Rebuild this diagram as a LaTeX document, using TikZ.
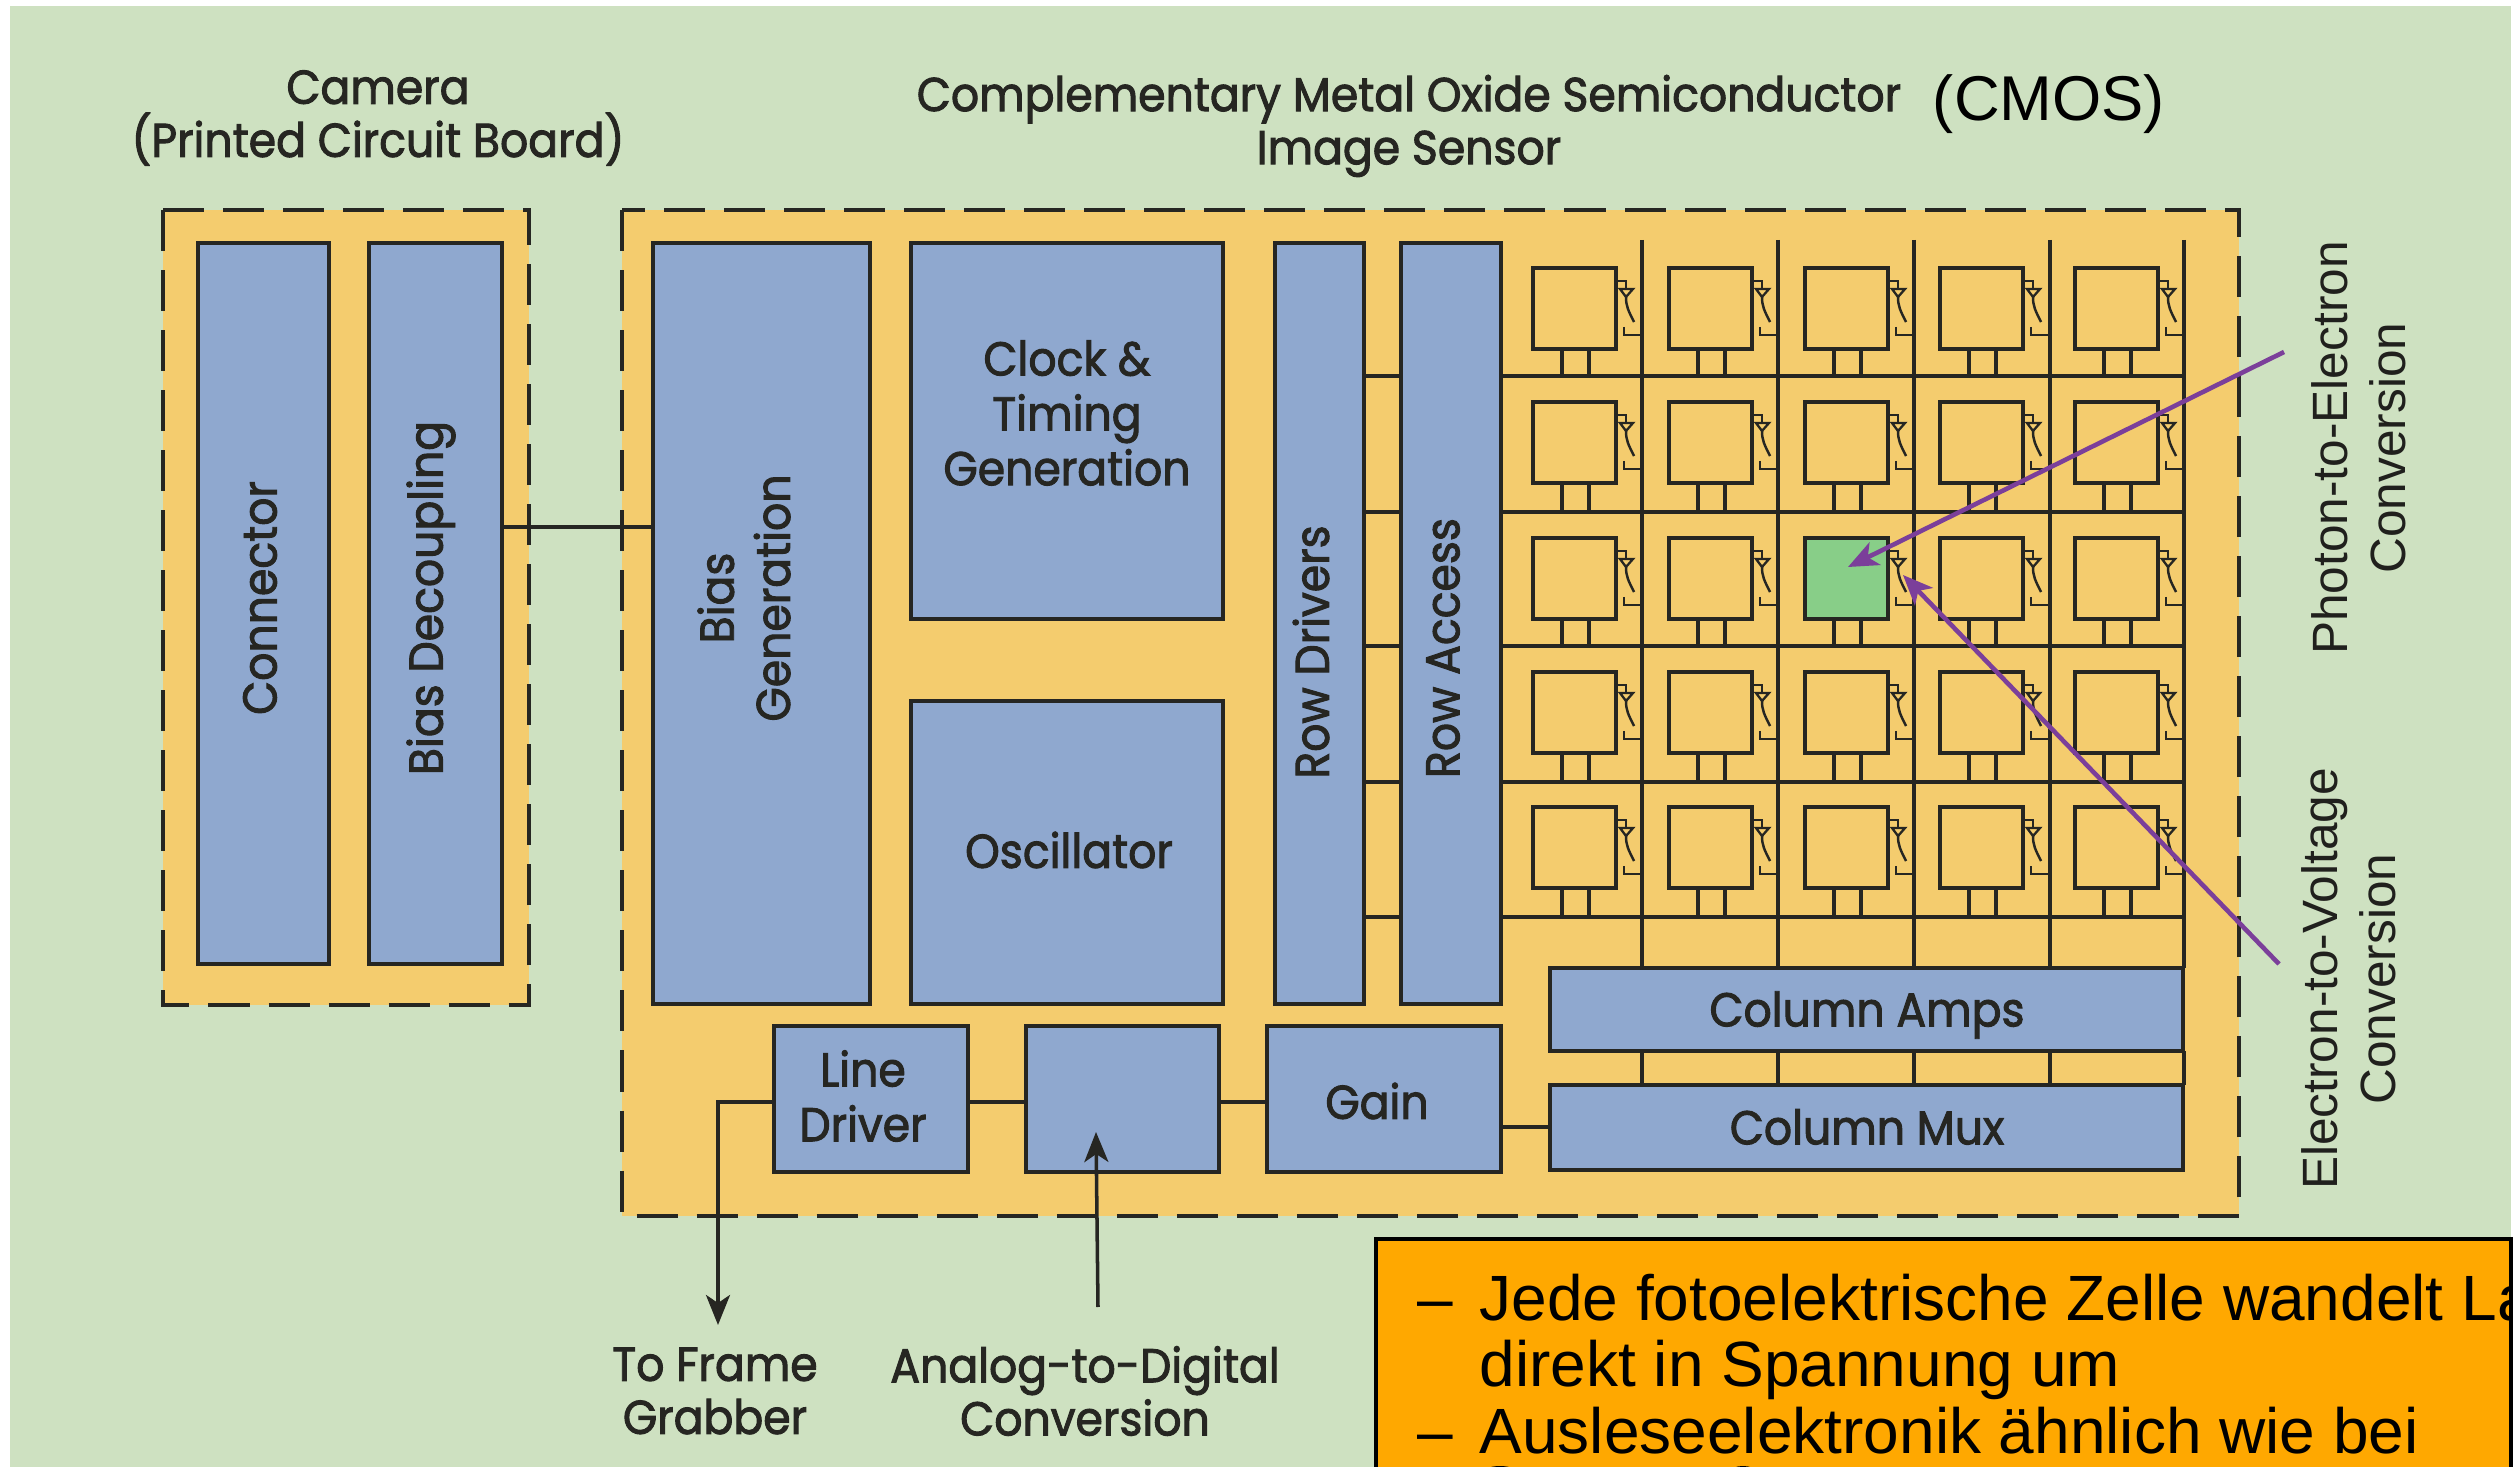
\documentclass[tikz,border=0pt]{standalone}
\usepackage{fontspec}
\usetikzlibrary{arrows.meta,calc}
\setmainfont{Liberation Sans}
\newfontfamily\gfont[FakeStretch=0.93,FakeBold=2]{Poppins}
\definecolor{bgc}{HTML}{CEE1C1}
\definecolor{chip}{HTML}{F4CC6E}
\definecolor{blk}{HTML}{8FA8CF}
\definecolor{lit}{HTML}{88CE88}
\definecolor{note}{HTML}{FFA800}
\definecolor{ink}{HTML}{262622}
\definecolor{viol}{HTML}{7B3F9A}
\tikzset{
  zone/.style={fill=chip,draw=ink,line width=1.2pt,dash pattern=on 0.41cm off 0.19cm},
  block/.style={fill=blk,draw=ink,line width=1.3pt,inner sep=0pt,outer sep=0pt,text=ink,align=center,font=\gfont\fontsize{13.5}{15.6}\selectfont},
  gtext/.style={inner sep=0pt,text=ink,align=center,font=\gfont\fontsize{13.5}{15.1}\selectfont},
  gblock/.style={inner sep=0pt,text=ink,align=center,font=\gfont\fontsize{13.5}{15.6}\selectfont},
  htext/.style={inner sep=0pt,text=ink!85!black,align=center,font=\fontsize{14.1}{16.4}\selectfont},
  wire/.style={draw=ink,line width=1pt},
  thin wire/.style={draw=ink,line width=0.9pt},
  cellbox/.style={draw=ink,line width=0.95pt,inner sep=0pt,outer sep=0pt,minimum width=0.83cm,minimum height=0.81cm},
  ptr/.style={draw=viol,line width=1.3pt,-{Stealth[length=0.3cm,width=0.25cm,inset=0.08cm]}},
  arr/.style={wire,-{Stealth[length=0.3cm,width=0.24cm,inset=0.08cm]}},
  notetext/.style={inner sep=0pt,anchor=base west,font=\fontsize{18.2}{20}\selectfont,text=black},
}
\newcommand{\blockat}[7][]{%
  \pgfmathsetmacro{\bw}{(#4-#2)*0.01}\pgfmathsetmacro{\bh}{(#5-#3)*0.01}%
  \node[block,minimum width=\bw cm,minimum height=\bh cm,anchor=north west,#1] (#6) at (#2,#3) {#7};}
\begin{document}
\begin{tikzpicture}[x=0.01cm,y=-0.01cm]
\useasboundingbox (0,0) rectangle (2520,1467);
\clip (0,0) rectangle (2520,1467);
\fill[white] (0,0) rectangle (2520,1467);
\fill[bgc] (10,6) rectangle (2511,1467);
% zones
\draw[zone] (163,210) rectangle (529,1005);
\draw[zone] (622,210) rectangle (2239,1216);
% blocks
\blockat{198}{243}{329}{964}{conn}{}
\blockat{369}{243}{502}{964}{bdec}{}
\blockat{653}{243}{870}{1004}{bgen}{}
\blockat{911}{243}{1223}{619}{clock}{}
\blockat{911}{701}{1223}{1004}{osc}{}
\blockat{1275}{243}{1364}{1004}{rdrv}{}
\blockat{1401}{243}{1501}{1004}{racc}{}
\blockat{1550}{968}{2183}{1051}{camp}{}
\blockat{1550}{1085}{2183}{1170}{cmux}{}
\blockat{774}{1026}{968}{1172}{ldrv}{}
\blockat{1026}{1026}{1219}{1172}{adc}{}
\blockat{1267}{1026}{1501}{1172}{gain}{}
% block labels
\node[gblock] (lclock) at (1067,413) {Clock \&\\Timing\\Generation};
\node[gblock] (losc) at (1069,850) {Oscillator};
\node[gblock] (lamp) at (1867,1015) {Column Amps};
\node[gblock] (lmux) at (1867,1127) {Column Mux};
\node[gblock] (lldrv) at (863,1096) {Line\\Driver};
\node[gblock] (lgain) at (1377,1101) {Gain};
\node[gblock,rotate=90] (lconn) at (260,598) {Connector};
\node[gblock,rotate=90] (lbdec) at (431,598) {Bias Decoupling};
\node[gblock,rotate=90,font=\gfont\fontsize{13.5}{16}\selectfont] (lbgen) at (744,598) {Bias\\Generation};
\node[gblock,rotate=90] (lrdrv) at (1311,652) {Row Drivers};
\node[gblock,rotate=90] (lracc) at (1443,648) {Row Access};
% wires between blocks
\draw[wire] (bdec.east |- 0,527) -- (bgen.west |- 0,527);
\draw[wire] (ldrv.east |- 0,1102) -- (adc.west |- 0,1102);
\draw[wire] (adc.east |- 0,1102) -- (gain.west |- 0,1102);
\draw[wire] (gain.east |- 0,1127) -- (cmux.west |- 0,1127);
\foreach \y in {376,512,646,782,917}{
  \draw[wire] (rdrv.east |- 0,\y) -- (racc.west |- 0,\y);
  \draw[thin wire] (racc.east |- 0,\y) -- (2184,\y);
}
\foreach \x in {1642,1778,1914,2050,2184}{
  \draw[thin wire] (\x,240) -- (\x,968);
  \draw[thin wire] (\x,1051) -- (\x,1085);
}
% pixel cells
\foreach \c/\x in {1/1533,2/1669,3/1805,4/1940,5/2075}{
  \foreach \r/\y/\ly in {1/268/376,2/402/512,3/538/646,4/672/782,5/807/917}{
    \node[cellbox,anchor=north west] (cell\r\c) at (\x,\y) {};
    \draw[thin wire] (\x+29,\y+81) -- (\x+29,\ly);
    \draw[thin wire] (\x+56,\y+81) -- (\x+56,\ly);
    \begin{scope}[shift={(\x+83,\y)}]
      \draw[draw=ink,line width=0.65pt] (0,13) -- (10,13) -- (10,21);
      \draw[draw=ink,line width=0.65pt] (4,21) -- (17,21) -- (10,29) -- cycle;
      \draw[draw=ink,line width=0.7pt] (10,29) .. controls (10,38) and (12,42) .. (18,54);
      \draw[draw=ink,line width=0.75pt] (8,59) -- (8,67) -- (26,67);
    \end{scope}
  }
}
\node[cellbox,anchor=north west,fill=lit] (litcell) at (1805,538) {};
% arrows
\coordinate (fg) at (718,1325);
\coordinate (adcin) at (1098,1307);
\coordinate (adctip) at (1096,1132);
\draw[arr] (ldrv.west |- 0,1102) -| (fg);
\draw[arr] (adcin) -- (adctip);
\coordinate (p1) at (2284,352);
\coordinate (p1t) at (1848,567);
\coordinate (p2) at (2279,964);
\coordinate (p2t) at (1903,575);
\draw[ptr] (p1) -- (p1t);
\draw[ptr] (p2) -- (p2t);
% titles
\node[gtext] (tcam) at (378,118) {Camera\\(Printed Circuit Board)};
\node[gtext] (tcmos) at (1409,126) {Complementary Metal Oxide Semiconductor\\Image Sensor};
\node[inner sep=0pt,font=\fontsize{18}{20}\selectfont] (tcm) at (2049,104) {(CMOS)};
\node[gtext] (tfg) at (715,1391) {To Frame\\Grabber};
\node[gtext] (tadc) at (1085,1391) {Analog-to-Digital\\Conversion};
\node[htext,rotate=90] (tph) at (2359,448) {Photon-to-Electron\\Conversion};
\node[htext,rotate=90] (tev) at (2349,979) {Electron-to-Voltage\\Conversion};
% note
\draw[fill=note,draw=black,line width=0.9pt] (1376,1239) rectangle (2511,1480);
\begin{scope}
\clip (1376,1239) rectangle (2510,1480);
\node[notetext] (d1) at (1417,1320) {–};
\node[notetext] (n1) at (1479,1320) {Jede fotoelektrische Zelle wandelt La};
\node[notetext] (n2) at (1479,1386) {direkt in Spannung um};
\node[notetext] (d2) at (1417,1453) {–};
\node[notetext] (n3) at (1479,1453) {Ausleseelektronik ähnlich wie bei};
\fill[black] (1500,1471) ellipse (15 and 5);
\fill[black] (1743,1471) ellipse (12 and 5);
\end{scope}
\end{tikzpicture}
\end{document}
